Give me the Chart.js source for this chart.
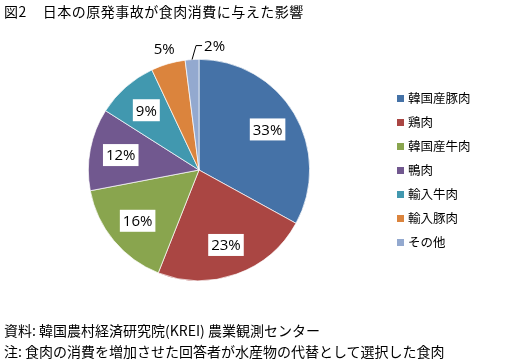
<!DOCTYPE html>
<html>
<head>
<meta charset="utf-8">
<script src="https://cdn.jsdelivr.net/npm/chart.js@4"></script>
<style>
    html, body { margin: 0; padding: 0; background: #fff; }
    #wrap { position: relative; width: 522px; height: 361px; font-family: "Noto Sans CJK JP", sans-serif; color: #000; }
    #chart { position: absolute; left: 0; top: 0; }
    .txt { position: absolute; white-space: nowrap; font-size: 14px; line-height: 16px; }
    #legend { position: absolute; left: 397px; top: 90px; }
    .item { position: relative; height: 24px; font-size: 12.5px; line-height: 16px; white-space: nowrap; }
    .item span.box { position: absolute; left: 0; top: 5px; width: 7px; height: 7px; }
    .item span.lbl { position: absolute; left: 11px; top: 0; white-space: nowrap; }
</style>
</head>
<body>
<div id="wrap">
    <canvas id="chart" width="522" height="361"></canvas>
    <div class="txt" style="left:4px;top:3px;letter-spacing:0.5px;">図2<span style="display:inline-block;width:16px"></span>日本の原発事故が食肉消費に与えた影響</div>
    <div id="legend"></div>
    <div class="txt" style="left:4px;top:322px;">資料: 韓国農村経済研究院(KREI) 農業観測センター</div>
    <div class="txt" style="left:4px;top:343px;">注: 食肉の消費を増加させた回答者が水産物の代替として選択した食肉</div>
</div>
<script>
const categories = ['韓国産豚肉', '鶏肉', '韓国産牛肉', '鴨肉', '輸入牛肉', '輸入豚肉', 'その他'];
const shares = [33, 23, 16, 12, 9, 5, 2];
const colors = ['#4572A7', '#AA4643', '#89A54E', '#71588F', '#4198AF', '#DB843D', '#93A9CF'];

// legend
const legendEl = document.getElementById('legend');
categories.forEach((c, i) => {
    const row = document.createElement('div');
    row.className = 'item';
    row.innerHTML = `<span class="box" style="background:${colors[i]}"></span><span class="lbl">${c}</span>`;
    legendEl.appendChild(row);
});

const pieLabels = {
    id: 'pieLabels',
    afterDatasetsDraw(chart) {
        const ctx = chart.ctx;
        const meta = chart.getDatasetMeta(0);
        ctx.save();
        ctx.font = '15px "Open Sans", sans-serif';
        ctx.textBaseline = 'middle';
        ctx.textAlign = 'center';
        meta.data.forEach((arc, i) => {
            const p = arc.getProps(['x', 'y', 'startAngle', 'endAngle', 'outerRadius'], true);
            const mid = (p.startAngle + p.endAngle) / 2;
            const text = shares[i] + '%';
            const w = ctx.measureText(text).width;
            if (shares[i] >= 8) {
                const r = p.outerRadius * 0.72;
                const x = p.x + Math.cos(mid) * r;
                const y = p.y + Math.sin(mid) * r;
                ctx.fillStyle = '#fff';
                ctx.fillRect(x - w / 2 - 3, y - 11, w + 6, 22);
                ctx.fillStyle = '#000';
                ctx.fillText(text, x, y + 1);
            } else if (shares[i] >= 4) {
                const r = p.outerRadius * 1.13;
                ctx.fillStyle = '#000';
                ctx.fillText(text, p.x + Math.cos(mid) * r, p.y + Math.sin(mid) * r);
            } else {
                // leader line for the tiny slice
                const x0 = p.x + Math.cos(mid) * p.outerRadius;
                const y0 = p.y + Math.sin(mid) * p.outerRadius;
                const x1 = x0 + 4, y1 = y0 - 14;
                ctx.strokeStyle = '#000';
                ctx.lineWidth = 1;
                ctx.beginPath();
                ctx.moveTo(x0, y0);
                ctx.lineTo(x1, y1);
                ctx.lineTo(x1 + 6, y1);
                ctx.stroke();
                ctx.textAlign = 'left';
                ctx.fillStyle = '#000';
                ctx.fillText(text, x1 + 8, y1 + 1);
                ctx.textAlign = 'center';
            }
        });
        ctx.restore();
    }
};

new Chart(document.getElementById('chart'), {
    type: 'pie',
    data: {
        labels: categories,
        datasets: [{
            data: shares,
            backgroundColor: colors,
            borderColor: '#ffffff',
            borderWidth: 0.7
        }]
    },
    options: {
        responsive: false,
        animation: false,
        layout: { padding: { left: 88, right: 212, top: 59, bottom: 80 } },
        plugins: {
            legend: { display: false },
            tooltip: { enabled: false }
        }
    },
    plugins: [pieLabels]
});
</script>
</body>
</html>
